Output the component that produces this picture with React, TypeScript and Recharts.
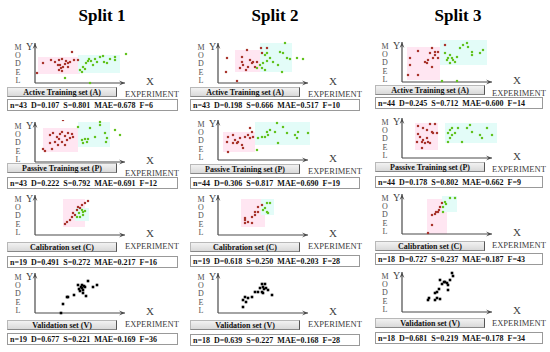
import React from 'react';
import { ScatterChart, Scatter, XAxis, YAxis, ReferenceArea, ReferenceLine } from 'recharts';

// ---------- text ----------
const splitTitles = ['Split 1', 'Split 2', 'Split 3'];
const setLabels = ['Active Training set (A)', 'Passive Training set (P)', 'Calibration set (C)', 'Validation set (V)'];
const split1Stats = [
  'n=43  D=0.107  S=0.801  MAE=0.678  F=6',
  'n=43  D=0.222  S=0.792  MAE=0.691  F=12',
  'n=19  D=0.491  S=0.272  MAE=0.217  F=16',
  'n=19  D=0.677  S=0.221  MAE=0.169  F=36',
];
const split2Stats = [
  'n=43  D=0.198  S=0.666  MAE=0.517  F=10',
  'n=44  D=0.306  S=0.817  MAE=0.690  F=19',
  'n=19  D=0.618  S=0.250  MAE=0.203  F=28',
  'n=18  D=0.639  S=0.227  MAE=0.168  F=28',
];
const split3Stats = [
  'n=44  D=0.245  S=0.712  MAE=0.600  F=14',
  'n=44  D=0.178  S=0.802  MAE=0.662  F=9',
  'n=18  D=0.727  S=0.237  MAE=0.187  F=43',
  'n=18  D=0.681  S=0.219  MAE=0.178  F=34',
];

// ---------- data: [experiment, model] in plot units ----------
type Pt = [number, number];
type Zone = [number, number, number, number]; // x1, x2, y1, y2

// Split 1
const s1ActiveRed: Pt[] = [[8,20],[16,23],[24,23],[27,24],[31,22],[33,20],[35,21],[37,31],[39,23],[43,23],[25,18],[26,15],[24,13],[27,12],[23,18],[2,10],[33,16],[28,16],[20,21],[30,19]];
const s1ActiveGreen: Pt[] = [[45,13],[48,16],[51,20],[53,22],[54,24],[47,11],[62,21],[65,26],[68,27],[69,21],[72,20],[80,26],[80,23],[91,29],[30,5],[55,0],[56,22],[60,24],[58,18],[75,24],[50,14]];
const s1ActiveZones: Zone[] = [[3,45,9,26],[43,85,10,28]];
const s1PassiveRed: Pt[] = [[28,42],[15,27],[18,29],[22,25],[25,28],[27,30],[30,26],[33,29],[35,24],[37,28],[32,22],[27,20],[15,19],[20,20],[23,17],[30,17],[17,13],[8,13],[10,11],[24,23],[38,25]];
const s1PassiveGreen: Pt[] = [[43,35],[47,22],[50,23],[52,20],[53,23],[60,25],[65,40],[65,37],[70,29],[72,24],[71,20],[80,32],[85,27],[48,19],[55,34]];
const s1PassiveZones: Zone[] = [[8,43,10,34],[43,75,15,40]];
const s1CalRed: Pt[] = [[53,34],[50,32],[47,30],[45,27],[42,25],[38,22],[43,28],[30,11],[32,13],[35,15],[37,18],[40,20]];
const s1CalGreen: Pt[] = [[47,25],[48,23],[42,18],[48,20],[45,18],[44,22],[50,24]];
const s1CalZones: Zone[] = [[28,50,8,36],[40,54,14,27]];
const s1Val: Pt[] = [[53,32],[62,28],[58,26],[43,28],[47,25],[48,23],[50,26],[45,22],[48,20],[51,17],[39,18],[33,16],[32,16],[28,9],[26,0],[47,28],[49,27],[46,26],[44,24]];

// Split 2
const s2ActiveRed: Pt[] = [[9,25],[29,33],[24,26],[24,21],[25,18],[22,15],[32,23],[35,21],[39,21],[34,20],[30,16],[28,13],[43,35],[44,30],[49,35],[8,11],[19,2],[37,16]];
const s2ActiveGreen: Pt[] = [[47,28],[49,30],[52,25],[49,22],[45,20],[42,18],[39,15],[44,15],[55,21],[62,31],[67,40],[65,30],[69,25],[72,24],[79,25],[85,24],[60,18],[64,11],[47,13]];
const s2ActiveZones: Zone[] = [[17,44,11,33],[42,74,11,40]];
const s2PassiveRed: Pt[] = [[10,23],[9,18],[10,8],[15,25],[17,20],[19,17],[20,18],[24,15],[25,12],[27,23],[30,25],[32,22],[34,28],[32,32],[35,23],[15,17],[22,22]];
const s2PassiveGreen: Pt[] = [[40,22],[44,23],[47,23],[49,28],[50,25],[52,30],[57,28],[59,37],[60,17],[65,33],[69,27],[77,25],[79,22],[80,28],[90,27],[39,10]];
const s2PassiveZones: Zone[] = [[5,37,8,28],[37,92,15,38]];
const s2CalRed: Pt[] = [[44,30],[40,28],[37,23],[34,18],[27,17],[27,15],[30,13],[34,12],[37,20],[40,23],[27,12]];
const s2CalGreen: Pt[] = [[49,32],[52,32],[47,27],[45,25],[49,23],[50,22]];
const s2CalZones: Zone[] = [[23,47,8,36],[43,56,20,36]];
const s2Val: Pt[] = [[44,29],[47,29],[45,26],[48,25],[42,25],[40,21],[44,21],[50,23],[54,18],[37,21],[34,16],[30,15],[27,16],[25,13],[28,11],[25,6],[45,20],[46,24]];

// Split 3
const s3ActiveRed: Pt[] = [[16,31],[8,24],[8,17],[6,7],[16,7],[23,20],[25,19],[26,22],[28,29],[30,34],[30,15],[33,30],[33,27],[36,30],[36,24],[31,24],[43,37]];
const s3ActiveGreen: Pt[] = [[43,29],[46,24],[48,27],[50,24],[51,22],[55,25],[53,20],[45,22],[58,34],[61,37],[65,39],[66,35],[70,30],[70,27],[78,29],[81,32],[40,1],[55,1],[48,19]];
const s3ActiveZones: Zone[] = [[5,38,2,35],[38,85,17,42]];
const s3PassiveRed: Pt[] = [[16,32],[16,24],[15,16],[18,21],[20,16],[21,18],[23,15],[25,20],[26,16],[28,15],[25,28],[28,34],[30,26],[31,25],[33,34],[35,25],[20,10],[21,30]];
const s3PassiveGreen: Pt[] = [[46,25],[48,28],[50,30],[50,23],[48,20],[46,16],[53,25],[56,30],[60,16],[65,30],[68,33],[70,26],[78,23],[80,20],[85,30],[90,23]];
const s3PassiveZones: Zone[] = [[13,36,8,35],[43,95,15,35]];
const s3CalRed: Pt[] = [[40,31],[38,27],[36,22],[33,20],[30,19],[34,22],[37,24],[30,9],[26,1]];
const s3CalGreen: Pt[] = [[48,36],[53,36],[43,32],[41,27],[41,22],[44,30]];
const s3CalZones: Zone[] = [[25,45,0,35],[40,55,22,38]];
const s3Val: Pt[] = [[50,39],[51,36],[48,32],[38,32],[40,28],[43,30],[45,29],[46,27],[37,23],[35,20],[33,19],[46,22],[26,12],[27,14],[35,14],[38,13],[33,12],[42,30]];

// ---------- layout ----------
const cols = [
  { axisX: 35, boxL: 7, boxW: 171, titleX: 102, axisY: [83, 162, 235, 313], gray: [87, 163, 242, 320], stats: [99, 177, 256, 333] },
  { axisX: 218, boxL: 190, boxW: 170, titleX: 275, axisY: [83, 160, 235, 313], gray: [87, 164, 242, 320], stats: [99, 177, 255, 334] },
  { axisX: 402, boxL: 375, boxW: 168, titleX: 458, axisY: [82, 158, 234, 312], gray: [85, 162, 241, 318], stats: [97, 176, 253, 332] },
];

const XMIN = -3, XMAX = 95, YMIN = -3, YMAX = 42;
const M = 5;
const CW = XMAX - XMIN + 2 * M;
const CH = YMAX - YMIN + 2 * M;
const AXIS_LEN_X = 90;
const AXIS_LEN_Y = 40;

const FONT = "'Liberation Serif', 'Times New Roman', serif";
const RED = '#a8342c';
const GREEN = '#62c21e';
const PINK = '#ffe6f2';
const CYAN = '#e3fcf8';
const AXC = '#4a4a4a';

const toObj = (a: Pt[]) => a.map(([x, y]) => ({ x, y }));

function Arrow(props: any) {
  const { x1, y1, x2, y2 } = props;
  if ([x1, y1, x2, y2].some((v) => typeof v !== 'number' || isNaN(v))) return null;
  const a = Math.atan2(y2 - y1, x2 - x1);
  const L = 6, W = 2.4;
  const bx = x2 - L * Math.cos(a), by = y2 - L * Math.sin(a);
  const px = -Math.sin(a) * W, py = Math.cos(a) * W;
  return (
    <g>
      <line x1={x1} y1={y1} x2={x2} y2={y2} stroke={AXC} strokeWidth={1.2} />
      <path d={`M${bx + px},${by + py} L${x2},${y2} L${bx - px},${by - py} L${x2 - 3.5 * Math.cos(a)},${y2 - 3.5 * Math.sin(a)} Z`} fill={AXC} />
    </g>
  );
}

const dot = (color: string, s = 2.2) => (p: any) => (
  <rect x={p.cx - s / 2} y={p.cy - s / 2} width={s} height={s} fill={color} />
);

type PanelDef = { red?: Pt[]; green?: Pt[]; black?: Pt[]; zones?: Zone[] };

const panels: PanelDef[][] = [
  [
    { red: s1ActiveRed, green: s1ActiveGreen, zones: s1ActiveZones },
    { red: s1PassiveRed, green: s1PassiveGreen, zones: s1PassiveZones },
    { red: s1CalRed, green: s1CalGreen, zones: s1CalZones },
    { black: s1Val },
  ],
  [
    { red: s2ActiveRed, green: s2ActiveGreen, zones: s2ActiveZones },
    { red: s2PassiveRed, green: s2PassiveGreen, zones: s2PassiveZones },
    { red: s2CalRed, green: s2CalGreen, zones: s2CalZones },
    { black: s2Val },
  ],
  [
    { red: s3ActiveRed, green: s3ActiveGreen, zones: s3ActiveZones },
    { red: s3PassiveRed, green: s3PassiveGreen, zones: s3PassiveZones },
    { red: s3CalRed, green: s3CalGreen, zones: s3CalZones },
    { black: s3Val },
  ],
];
const statsByCol = [split1Stats, split2Stats, split3Stats];
const modelLetters = ['M', 'O', 'D', 'E', 'L'];

function Panel({ def, axisX, axisY }: { def: PanelDef; axisX: number; axisY: number }) {
  const left = axisX - M + XMIN;
  const top = axisY - M - YMAX;
  const tip = axisX + AXIS_LEN_X;
  return (
    <>
      <div style={{ position: 'absolute', left, top }}>
        <ScatterChart width={CW} height={CH} margin={{ top: M, right: M, bottom: M, left: M }}>
          <XAxis type="number" dataKey="x" domain={[XMIN, XMAX]} hide allowDataOverflow />
          <YAxis type="number" dataKey="y" domain={[YMIN, YMAX]} hide allowDataOverflow />
          {def.zones && (
            <ReferenceArea x1={def.zones[0][0]} x2={def.zones[0][1]} y1={def.zones[0][2]} y2={def.zones[0][3]} fill={PINK} fillOpacity={1} stroke="none" ifOverflow="visible" />
          )}
          {def.zones && (
            <ReferenceArea x1={def.zones[1][0]} x2={def.zones[1][1]} y1={def.zones[1][2]} y2={def.zones[1][3]} fill={CYAN} fillOpacity={1} stroke="none" ifOverflow="visible" />
          )}
          <ReferenceLine segment={[{ x: 0, y: 0 }, { x: AXIS_LEN_X, y: 0 }]} shape={Arrow} ifOverflow="visible" />
          <ReferenceLine segment={[{ x: 0, y: 0 }, { x: 0, y: AXIS_LEN_Y }]} shape={Arrow} ifOverflow="visible" />
          {def.red && <Scatter data={toObj(def.red)} fill={RED} shape={dot(RED)} isAnimationActive={false} />}
          {def.green && <Scatter data={toObj(def.green)} fill={GREEN} shape={dot(GREEN)} isAnimationActive={false} />}
          {def.black && <Scatter data={toObj(def.black)} fill="#000" shape={dot('#000', 2.6)} isAnimationActive={false} />}
        </ScatterChart>
      </div>
      {modelLetters.map((ch, i) => (
        <div key={ch + i} style={{ position: 'absolute', left: axisX - 23, top: axisY - 39.3 + i * 8.3, width: 12, height: 8, textAlign: 'center', fontSize: 8, lineHeight: '8px', color: '#505050', fontFamily: FONT }}>
          {ch}
        </div>
      ))}
      <div style={{ position: 'absolute', left: axisX - 10, top: axisY - 41, width: 9, textAlign: 'center', fontSize: 10, lineHeight: '10px', color: '#404040', fontFamily: FONT }}>Y</div>
      <div style={{ position: 'absolute', left: tip + 19, top: axisY - 6.6, width: 12, textAlign: 'center', fontSize: 11, lineHeight: '11px', color: '#404040', fontFamily: FONT }}>X</div>
      <div style={{ position: 'absolute', left: tip, top: axisY + 6.5, fontSize: 8.5, lineHeight: '9px', color: '#404040', fontFamily: FONT, whiteSpace: 'nowrap' }}>EXPERIMENT</div>
    </>
  );
}

export default function App() {
  return (
    <div style={{ position: 'absolute', left: 0, top: 0, width: 550, height: 352, background: '#fff', overflow: 'hidden', fontFamily: FONT }}>
      {cols.map((c, ci) => (
        <div key={'t' + ci} style={{ position: 'absolute', left: c.titleX - 50, top: 6.5, width: 100, textAlign: 'center', fontSize: 17, lineHeight: '17px', fontWeight: 'bold', color: '#000' }}>
          {splitTitles[ci]}
        </div>
      ))}
      {cols.map((c, ci) =>
        panels[ci].map((def, ri) => (
          <React.Fragment key={ci + '-' + ri}>
            <Panel def={def} axisX={c.axisX} axisY={c.axisY[ri]} />
            <div style={{ position: 'absolute', left: c.boxL, top: c.gray[ri], width: 110, height: 10, boxSizing: 'border-box', background: 'linear-gradient(#f2f2f2, #d9d9d9)', border: '1px solid #b8b8b8', borderRight: '1px solid #555', borderBottom: '1px solid #888', display: 'flex', alignItems: 'center', justifyContent: 'center', fontSize: 8, fontWeight: 'bold', color: '#111', whiteSpace: 'nowrap' }}>
              {setLabels[ri]}
            </div>
            <div style={{ position: 'absolute', left: c.boxL, top: c.stats[ri], width: c.boxW, height: 12, boxSizing: 'border-box', border: '1px solid #999', background: '#fff', display: 'flex', alignItems: 'center', paddingLeft: 2, fontSize: 8, fontWeight: 'bold', color: '#111', whiteSpace: 'pre' }}>
              {statsByCol[ci][ri]}
            </div>
          </React.Fragment>
        ))
      )}
    </div>
  );
}
